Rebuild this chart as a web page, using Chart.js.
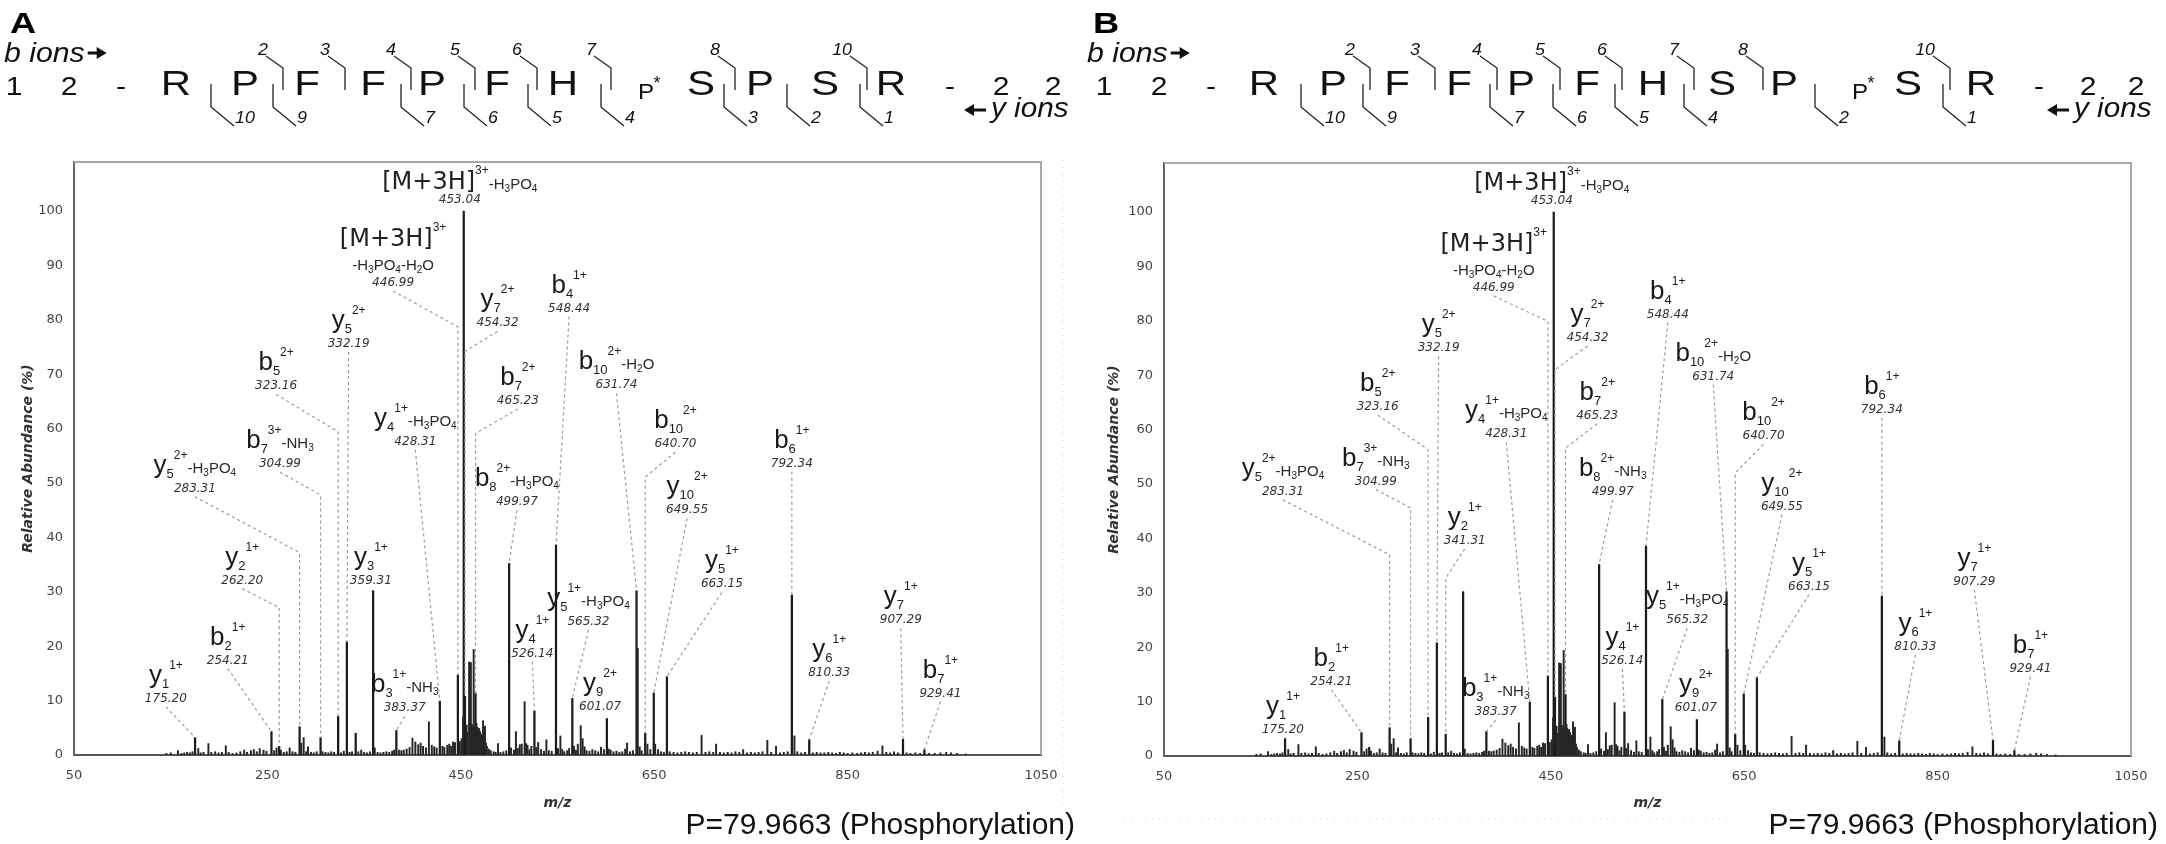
<!DOCTYPE html>
<html>
<head>
<meta charset="utf-8">
<script src="https://cdn.jsdelivr.net/npm/chart.js@4.4.1/dist/chart.umd.min.js"></script>
<style>
  html, body { margin: 0; padding: 0; background: #fff; }
  #wrap { position: relative; width: 2166px; height: 844px; }
  .panel { position: absolute; top: 0; width: 1083px; height: 844px; }
  #panelA { left: 0; }
  #panelB { left: 1083px; }
</style>
</head>
<body>
<div id="wrap">
  <div class="panel" id="panelA"><canvas id="chartA" width="1083" height="844"></canvas></div>
  <div class="panel" id="panelB"><canvas id="chartB" width="1083" height="844"></canvas></div>
</div>
<script>
// axis ticks
const xTicks = [50, 250, 450, 650, 850, 1050];
const yTicks = [0, 10, 20, 30, 40, 50, 60, 70, 80, 90, 100];

// annotated peaks (m/z, relative abundance %)
const peakMz = [175.20, 254.21, 262.20, 283.31, 304.99, 323.16, 332.19, 341.31, 359.31, 383.37,
  428.31, 446.99, 453.04, 454.32, 465.23, 499.97, 526.14, 548.44, 565.32, 601.07,
  631.74, 640.70, 649.55, 663.15, 792.34, 810.33, 907.29, 929.41];
const peakInt = [3.2, 4.3, 1.6, 5.2, 3.2, 7.1, 20.8, 4.0, 30.2, 4.5,
  9.9, 14.7, 100, 10.8, 11.3, 35.2, 8.1, 38.6, 10.4, 6.7,
  30.2, 4.0, 11.4, 14.4, 29.4, 2.8, 2.9, 1.0];

// other (unassigned) peaks
const minorMz = [145.5, 150, 157.5, 161, 164, 167, 170, 172.5, 178.5, 181, 184, 189, 192, 196, 199.5, 203, 207, 210, 214, 218,
  222, 226, 229, 233, 236, 239, 242, 246, 249, 257, 259.5, 264, 267, 270, 273, 276, 279, 285, 287.5, 290,
  292, 295, 298, 301, 307, 310, 313, 316, 319, 326, 329, 335, 337.5, 344, 347, 350, 353, 356, 361, 364,
  367, 370, 373, 376, 379, 381, 386, 388.5, 391, 394, 397, 400, 403, 406, 408.5, 411, 414, 417, 420, 422.5,
  425, 431, 433, 436, 438, 440, 442, 444, 449, 451, 452.3, 456, 457, 458.6, 459.5, 460.4, 461.5, 462.3, 463.3, 464.2,
  466.2, 467, 468, 469, 470, 471, 472, 473, 474, 475, 476, 477, 479, 481, 484, 486, 488.5, 491, 494, 497,
  502, 505, 507, 509, 511, 513, 516, 517.5, 519, 521, 523, 528, 530, 533, 536, 538.5, 541, 544, 550.5, 553,
  555, 557, 560, 562, 567, 569, 571, 574, 576, 578, 580, 583, 586, 589, 592, 595, 598, 603, 605, 608,
  611, 614, 617, 620, 622, 625, 628, 633, 635, 637, 643, 646, 651, 654, 657, 660, 666, 670, 674, 678,
  682, 686, 690, 694, 699, 703, 707, 711, 714, 718, 722, 726, 730, 734, 738, 742, 746, 750, 754, 758,
  762, 767, 771, 776, 780, 784, 788, 795, 798, 802, 806, 814, 818, 822, 826, 830, 834, 838, 842, 846,
  850, 855, 860, 864, 868, 872, 876, 881, 886, 890, 894, 898, 902, 911, 915, 920, 925, 934, 940, 946,
  952, 957, 963, 972];
const minorInt = [0.3, 0.4, 0.8, 0.3, 0.4, 0.5, 0.4, 0.6, 1.2, 0.4, 0.5, 2.1, 0.5, 0.6, 0.4, 0.5, 1.7, 0.5, 0.3, 0.4,
  0.6, 0.9, 0.5, 0.8, 1.0, 0.6, 1.2, 0.9, 0.7, 0.8, 1.3, 0.9, 0.5, 0.6, 1.3, 0.6, 0.5, 2.2, 3.2, 0.6,
  1.5, 0.5, 0.4, 0.6, 0.6, 0.5, 0.4, 0.6, 0.5, 0.4, 0.7, 0.5, 0.6, 0.6, 0.9, 0.5, 0.4, 0.6, 1.3, 0.5,
  0.4, 0.5, 0.6, 0.5, 0.7, 0.9, 0.9, 0.8, 0.9, 1.1, 1.4, 3.1, 2.4, 1.9, 2.2, 1.6, 1.3, 6.1, 1.8, 1.5,
  1.3, 1.6, 1.4, 1.8, 2.0, 1.6, 2.4, 2.3, 2.5, 3.0, 7.0, 5.5, 4.2, 17.1, 4.8, 17.0, 5.6, 4.9, 19.4, 5.2,
  5.8, 5.1, 4.6, 4.9, 4.3, 3.8, 3.5, 6.3, 3.0, 5.3, 2.2, 1.6, 1.1, 0.8, 0.6, 0.5, 2.1, 0.5, 0.6, 0.8,
  1.3, 0.9, 4.3, 1.2, 1.9, 2.0, 9.8, 2.1, 1.8, 1.0, 1.6, 1.4, 2.3, 1.0, 0.7, 2.8, 0.8, 0.7, 1.2, 3.5,
  1.0, 0.6, 0.8, 1.2, 1.6, 0.9, 2.0, 5.4, 3.0, 1.5, 0.8, 0.7, 1.0, 0.8, 0.6, 1.4, 1.0, 1.1, 0.9, 0.6,
  0.7, 0.5, 0.6, 1.1, 2.2, 0.6, 0.8, 19.6, 1.5, 0.8, 2.0, 1.0, 2.0, 1.0, 0.6, 0.5, 0.6, 0.5, 0.4, 0.5,
  0.6, 0.5, 0.4, 0.5, 3.6, 0.5, 0.6, 0.5, 2.0, 0.5, 0.4, 0.5, 0.4, 0.6, 0.5, 1.0, 0.4, 0.5, 0.4, 0.5,
  0.6, 2.7, 0.5, 1.6, 0.4, 0.5, 0.6, 3.5, 0.6, 0.4, 0.5, 0.4, 0.5, 0.4, 0.4, 0.5, 0.4, 0.3, 0.5, 0.4,
  0.3, 0.4, 0.3, 0.4, 0.5, 0.4, 0.5, 0.7, 1.7, 0.5, 0.4, 0.6, 0.4, 0.4, 0.3, 0.4, 0.3, 0.3, 0.3, 0.4,
  0.5, 0.4, 0.3, 0.2];

// peptide sequences and fragment numbering
const seqA = ['1', '2', '-', 'R', 'P', 'F', 'F', 'P', 'F', 'H', 'p*', 'S', 'P', 'S', 'R', '-', '2', '2'];
const seqB = ['1', '2', '-', 'R', 'P', 'F', 'F', 'P', 'F', 'H', 'S', 'P', 'p*', 'S', 'R', '-', '2', '2'];
const bIonsA = [2, 3, 4, 5, 6, 7, 8, 10];
const yIonsA = [10, 9, 7, 6, 5, 4, 3, 2, 1];
const bIonsB = [2, 3, 4, 5, 6, 7, 8, 10];
const yIonsB = [10, 9, 7, 6, 5, 4, 2, 1];

// layout of the sequence header (pixel x of each residue / cleavage mark)
const seqAx = [14, 69, 121, 176, 245, 307, 373, 432, 497, 563, 646, 701, 760, 825, 891, 950, 1001, 1053];
const seqBx = [21, 76, 128, 181, 250, 314, 376, 438, 504, 570, 639, 701, 777, 825, 898, 956, 1005, 1053];
const bCutAx = [283, 345, 411, 475, 537, 611, 735, 867];
const yCutAx = [211, 273, 401, 464, 528, 601, 724, 787, 860];
const bCutBx = [287, 352, 414, 477, 539, 611, 680, 867];
const yCutBx = [218, 280, 407, 470, 532, 601, 732, 860];

// peak labels: x = label centre (m/z), y = italic number baseline (%), pk = peak, bend = leader elbow (%)
const labelsA = [
  { t: '[M+3H]^{3+}-H_3PO_4', n: '453.04', x: 449, y: 101.5, big: true },
  { t: '[M+3H]^{3+}', t2: '-H_3PO_4-H_2O', n: '446.99', x: 380, y: 86.2, pk: 446.99, bend: 78.7 },
  { t: 'y_7^{2+}', n: '454.32', x: 488, y: 78.8, pk: 454.32, bend: 74.2 },
  { t: 'b_7^{2+}', n: '465.23', x: 509, y: 64.5, pk: 465.23, bend: 59.1 },
  { t: 'y_5^{2+}', n: '332.19', x: 334, y: 75.0, pk: 332.19 },
  { t: 'b_5^{2+}', n: '323.16', x: 259, y: 67.2, pk: 323.16, bend: 59.4 },
  { t: 'b_7^{3+}-NH_3', n: '304.99', x: 263, y: 52.9, pk: 304.99, bend: 47.8 },
  { t: 'y_5^{2+}-H_3PO_4', n: '283.31', x: 175, y: 48.4, pk: 283.31, bend: 37.2 },
  { t: 'y_4^{1+}-H_3PO_4', n: '428.31', x: 403, y: 57.0, pk: 428.31 },
  { t: 'b_8^{2+}-H_3PO_4', n: '499.97', x: 508, y: 45.9, pk: 499.97 },
  { t: 'b_4^{1+}', n: '548.44', x: 562, y: 81.5, pk: 548.44 },
  { t: 'b_{10}^{2+}-H_2O', n: '631.74', x: 611, y: 67.4, pk: 631.74 },
  { t: 'b_{10}^{2+}', n: '640.70', x: 672, y: 56.6, pk: 640.70, bend: 51.1 },
  { t: 'y_{10}^{2+}', n: '649.55', x: 684, y: 44.4, pk: 649.55 },
  { t: 'y_5^{1+}', n: '663.15', x: 720, y: 30.8, pk: 663.15 },
  { t: 'b_6^{1+}', n: '792.34', x: 792.34, y: 53.0, pk: 792.34 },
  { t: 'y_6^{1+}', n: '810.33', x: 831, y: 14.5, pk: 810.33 },
  { t: 'y_7^{1+}', n: '907.29', x: 905, y: 24.2, pk: 907.29 },
  { t: 'b_7^{1+}', n: '929.41', x: 946, y: 10.7, pk: 929.41 },
  { t: 'y_4^{1+}', n: '526.14', x: 524, y: 18.1, pk: 526.14 },
  { t: 'y_5^{1+}-H_3PO_4', n: '565.32', x: 582, y: 23.9, pk: 565.32 },
  { t: 'y_9^{2+}', n: '601.07', x: 594, y: 8.3 },
  { t: 'y_3^{1+}', n: '359.31', x: 357, y: 31.5 },
  { t: 'y_2^{1+}', n: '262.20', x: 224, y: 31.5, pk: 262.20, bend: 27.1 },
  { t: 'b_2^{1+}', n: '254.21', x: 209, y: 16.8, pk: 254.21 },
  { t: 'y_1^{1+}', n: '175.20', x: 145, y: 9.8, pk: 175.20 },
  { t: 'b_3^{1+}-NH_3', n: '383.37', x: 392, y: 8.0, pk: 383.37 }
];
const labelsB = [
  { t: '[M+3H]^{3+}-H_3PO_4', n: '453.04', x: 451, y: 101.4, big: true },
  { t: '[M+3H]^{3+}', t2: '-H_3PO_4-H_2O', n: '446.99', x: 391, y: 85.5, pk: 446.99, bend: 79.9 },
  { t: 'y_7^{2+}', n: '454.32', x: 488, y: 76.3, pk: 454.32, bend: 71.0 },
  { t: 'b_7^{2+}', n: '465.23', x: 498, y: 62.0, pk: 465.23, bend: 56.6 },
  { t: 'y_5^{2+}', n: '332.19', x: 334, y: 74.4, pk: 332.19 },
  { t: 'b_5^{2+}', n: '323.16', x: 271, y: 63.6, pk: 323.16, bend: 56.3 },
  { t: 'b_7^{3+}-NH_3', n: '304.99', x: 269, y: 49.9, pk: 304.99, bend: 45.6 },
  { t: 'y_5^{2+}-H_3PO_4', n: '283.31', x: 173, y: 48.0, pk: 283.31, bend: 37.0 },
  { t: 'y_4^{1+}-H_3PO_4', n: '428.31', x: 404, y: 58.6, pk: 428.31 },
  { t: 'b_8^{2+}-NH_3', n: '499.97', x: 514, y: 48.0, pk: 499.97 },
  { t: 'b_4^{1+}', n: '548.44', x: 571, y: 80.6, pk: 548.44 },
  { t: 'b_{10}^{2+}-H_2O', n: '631.74', x: 618, y: 69.2, pk: 631.74 },
  { t: 'b_{10}^{2+}', n: '640.70', x: 670, y: 58.2, pk: 640.70, bend: 52.0 },
  { t: 'y_{10}^{2+}', n: '649.55', x: 689, y: 45.3, pk: 649.55 },
  { t: 'y_5^{1+}', n: '663.15', x: 717, y: 30.6, pk: 663.15 },
  { t: 'b_6^{1+}', n: '792.34', x: 792.34, y: 63.1, pk: 792.34 },
  { t: 'y_6^{1+}', n: '810.33', x: 827, y: 19.5, pk: 810.33 },
  { t: 'y_7^{1+}', n: '907.29', x: 888, y: 31.5, pk: 907.29 },
  { t: 'b_7^{1+}', n: '929.41', x: 946, y: 15.5, pk: 929.41 },
  { t: 'y_4^{1+}', n: '526.14', x: 524, y: 16.9, pk: 526.14 },
  { t: 'y_5^{1+}-H_3PO_4', n: '565.32', x: 591, y: 24.4, pk: 565.32 },
  { t: 'y_9^{2+}', n: '601.07', x: 600, y: 8.2 },
  { t: 'y_2^{1+}', n: '341.31', x: 361, y: 39.0, pk: 341.31, bend: 32.7 },
  { t: 'b_2^{1+}', n: '254.21', x: 223, y: 13.1, pk: 254.21 },
  { t: 'y_1^{1+}', n: '175.20', x: 173, y: 4.2 },
  { t: 'b_3^{1+}-NH_3', n: '383.37', x: 393, y: 7.5, pk: 383.37 }
];

const SANS = "'Liberation Sans', Arial, sans-serif";
const WIDE = "'DejaVu Sans', Verdana, sans-serif";

function peakTop(mz) {
  const i = peakMz.indexOf(mz);
  return i >= 0 ? peakInt[i] : 0;
}

function txt(ctx, s, x, y, font, color, align, sx) {
  ctx.save();
  ctx.font = font;
  ctx.fillStyle = color || '#111';
  ctx.textAlign = align || 'left';
  ctx.textBaseline = 'alphabetic';
  ctx.translate(x, y);
  ctx.scale(sx || 1, 1);
  ctx.fillText(s, 0, 0);
  ctx.restore();
}

function textWidth(ctx, s, font, sx) {
  ctx.save();
  ctx.font = font;
  const w = ctx.measureText(s).width * (sx || 1);
  ctx.restore();
  return w;
}

// split "y_5^{2+}-H_3PO_4" into runs
function parseRich(str) {
  const out = [];
  let i = 0, buf = '';
  const flush = () => { if (buf) { out.push({ s: buf, k: 'n' }); buf = ''; } };
  while (i < str.length) {
    const c = str[i];
    if (c === '_' || c === '^') {
      flush();
      let s;
      if (str[i + 1] === '{') {
        const j = str.indexOf('}', i);
        s = str.slice(i + 2, j);
        i = j + 1;
      } else {
        s = str[i + 1];
        i += 2;
      }
      out.push({ s, k: c === '_' ? 'sub' : 'sup' });
    } else {
      buf += c;
      i++;
    }
  }
  flush();
  return out;
}

function drawRich(ctx, str, cx, base, mode) {
  let lead = mode !== 'suffix';
  const parts = parseRich(str).map((t, i) => {
    let font, dy = 0, color = '#1a1a1a', sx = 1;
    if (t.k === 'n') {
      if (i === 0 && mode === 'ion') font = `26px ${SANS}`;
      else if (i === 0 && mode === 'big') { font = `24px ${WIDE}`; color = '#222'; }
      else { lead = false; font = `15px ${SANS}`; color = '#2a2a2a'; }
    } else if (t.k === 'sub') {
      if (lead) { font = `13px ${SANS}`; dy = 5; }
      else { font = `10px ${SANS}`; dy = 3; }
    } else {
      font = `12px ${SANS}`;
      dy = mode === 'big' ? -15 : -14;
    }
    return { s: t.s, font, dy, color, sx };
  });
  let w = 0;
  parts.forEach(p => {
    p.w = textWidth(ctx, p.s, p.font, p.sx);
    w += p.w;
  });
  let x = cx - w / 2;
  parts.forEach(p => {
    txt(ctx, p.s, x, base + p.dy, p.font, p.color, 'left', p.sx);
    x += p.w;
  });
}

function drawLeader(ctx, xs, ys, L) {
  if (L.pk == null) return;
  const px = xs.getPixelForValue(L.pk);
  const pts = [[xs.getPixelForValue(L.x), ys.getPixelForValue(L.y) + 5]];
  if (L.bend != null) pts.push([px, ys.getPixelForValue(L.bend)]);
  pts.push([px, ys.getPixelForValue(peakTop(L.pk))]);
  ctx.save();
  ctx.strokeStyle = '#9c9c9c';
  ctx.lineWidth = 1.2;
  ctx.setLineDash([3, 3]);
  ctx.beginPath();
  pts.forEach((p, i) => i ? ctx.lineTo(p[0], p[1]) : ctx.moveTo(p[0], p[1]));
  ctx.stroke();
  ctx.restore();
}

function drawLabel(ctx, xs, ys, L) {
  const cx = xs.getPixelForValue(L.x);
  const ny = ys.getPixelForValue(L.y);
  if (L.t2) {
    drawRich(ctx, L.t, cx, ny - 40, 'big');
    drawRich(ctx, L.t2, cx, ny - 16, 'suffix');
  } else {
    drawRich(ctx, L.t, cx, ny - (L.big ? 14 : 19), L.big ? 'big' : 'ion');
  }
  txt(ctx, L.n, cx, ny, `italic 12px ${WIDE}`, '#333', 'center', 1);
}

function arrow(ctx, x0, x1, y) {
  const d = x1 > x0 ? 1 : -1;
  ctx.save();
  ctx.fillStyle = '#111';
  ctx.strokeStyle = '#111';
  ctx.lineWidth = 3;
  ctx.beginPath();
  ctx.moveTo(x0, y);
  ctx.lineTo(x1 - d * 8, y);
  ctx.stroke();
  ctx.beginPath();
  ctx.moveTo(x1 - d * 10, y - 6);
  ctx.lineTo(x1, y);
  ctx.lineTo(x1 - d * 10, y + 6);
  ctx.closePath();
  ctx.fill();
  ctx.restore();
}

function drawHeader(ctx, H) {
  txt(ctx, H.tag, 10, 33, `bold 29px ${SANS}`, '#000', 'left', 1.25);
  const ionFont = `italic 27px ${SANS}`;
  txt(ctx, 'b ions', 4, 62, ionFont, '#111', 'left', 1.12);
  const bEnd = 4 + textWidth(ctx, 'b ions', ionFont, 1.12);
  arrow(ctx, bEnd + 3, bEnd + 22, 53);
  txt(ctx, 'y ions', 991, 117, ionFont, '#111', 'left', 1.1);
  arrow(ctx, 986, 964, 110);

  H.seq.forEach((r, i) => {
    const x = H.seqX[i];
    if (r === 'p*') {
      txt(ctx, 'P', x, 99, `22px ${SANS}`, '#111', 'center', 1.1);
      txt(ctx, '*', x + 11, 89, `18px ${SANS}`, '#111', 'center', 1);
    } else if (/[0-9-]/.test(r)) {
      txt(ctx, r, x, 95, `25px ${SANS}`, '#111', 'center', 1.2);
    } else {
      txt(ctx, r, x, 95, `35px ${SANS}`, '#111', 'center', 1.2);
    }
  });

  ctx.save();
  ctx.strokeStyle = '#222';
  ctx.lineWidth = 1.3;
  H.bIons.forEach((n, i) => {
    const v = H.bX[i];
    ctx.beginPath();
    ctx.moveTo(v - 17, 56);
    ctx.lineTo(v, 68);
    ctx.lineTo(v, 90);
    ctx.stroke();
    txt(ctx, String(n), v - 15, 55, `italic 17px ${SANS}`, '#111', 'right', 1.05);
  });
  H.yIons.forEach((n, i) => {
    const v = H.yX[i];
    ctx.beginPath();
    ctx.moveTo(v, 84);
    ctx.lineTo(v, 107);
    ctx.lineTo(v + 23, 126);
    ctx.stroke();
    txt(ctx, String(n), v + 24, 123, `italic 17px ${SANS}`, '#111', 'left', 1.05);
  });
  ctx.restore();
}

function decorPlugin(cfg) {
  return {
    id: 'decor',
    beforeDraw(chart) {
      const ctx = chart.ctx;
      ctx.save();
      ctx.fillStyle = '#fff';
      ctx.fillRect(0, 0, chart.width, chart.height);
      ctx.restore();
    },
    afterDraw(chart) {
      const ctx = chart.ctx;
      const a = chart.chartArea;
      const xs = chart.scales.x, ys = chart.scales.y;

      // light frame on top and right
      ctx.save();
      ctx.strokeStyle = '#a8a8a8';
      ctx.lineWidth = 2;
      ctx.beginPath();
      ctx.moveTo(a.left, a.top);
      ctx.lineTo(a.right, a.top);
      ctx.lineTo(a.right, a.bottom);
      ctx.stroke();

      // faint dotted guide of the original figure
      ctx.strokeStyle = '#cfcfcf';
      ctx.lineWidth = 1;
      ctx.setLineDash([1, 6]);
      ctx.beginPath();
      if (cfg.guide === 'v') { ctx.moveTo(1063, 160); ctx.lineTo(1063, 805); }
      else { ctx.moveTo(34, 819); ctx.lineTo(647, 819); }
      ctx.stroke();
      ctx.restore();

      cfg.labels.forEach(L => drawLeader(ctx, xs, ys, L));
      cfg.labels.forEach(L => drawLabel(ctx, xs, ys, L));
      drawHeader(ctx, cfg.header);

      // axis titles
      ctx.save();
      ctx.translate(cfg.yTitleX, (a.top + a.bottom) / 2);
      ctx.rotate(-Math.PI / 2);
      txt(ctx, 'Relative Abundance (%)', 0, 5, `bold italic 14px ${WIDE}`, '#333', 'center', 1);
      ctx.restore();
      txt(ctx, 'm/z', (a.left + a.right) / 2, 807, `bold italic 14px ${WIDE}`, '#333', 'center', 1);

      txt(ctx, 'P=79.9663 (Phosphorylation)', 1075, 834, `30px ${SANS}`, '#111', 'right', 1);
    }
  };
}

function makeChart(id, frame, cfg) {
  const yW = 40, xH = 30;
  return new Chart(document.getElementById(id), {
    type: 'bar',
    data: {
      datasets: [
        {
          data: minorMz.map((m, i) => ({ x: m, y: minorInt[i] })),
          backgroundColor: '#262626',
          barThickness: 1.3,
          grouped: false
        },
        {
          data: peakMz.map((m, i) => ({ x: m, y: peakInt[i] })),
          backgroundColor: '#1c1c1c',
          barThickness: 1.6,
          grouped: false
        }
      ]
    },
    options: {
      responsive: false,
      animation: false,
      devicePixelRatio: 1,
      layout: {
        padding: { left: frame.left - yW, right: 1083 - frame.right, top: frame.top, bottom: 844 - frame.bottom - xH }
      },
      plugins: { legend: { display: false }, tooltip: { enabled: false } },
      scales: {
        x: {
          type: 'linear', min: 50, max: 1050, offset: false,
          grid: { display: false, drawTicks: false },
          border: { display: true, color: '#555', width: 2 },
          ticks: { font: { family: 'DejaVu Sans', size: 13 }, color: '#444', padding: 13, maxRotation: 0, callback: v => String(v) },
          afterBuildTicks: s => { s.ticks = xTicks.map(v => ({ value: v })); },
          afterFit: s => { s.height = xH; }
        },
        y: {
          type: 'linear', min: 0, max: 109,
          grid: { display: false, drawTicks: false },
          border: { display: true, color: '#666', width: 2 },
          ticks: { font: { family: 'DejaVu Sans', size: 13 }, color: '#444', padding: 11, callback: v => String(v) },
          afterBuildTicks: s => { s.ticks = yTicks.map(v => ({ value: v })); },
          afterFit: s => { s.width = yW; }
        }
      }
    },
    plugins: [decorPlugin(cfg)]
  });
}

makeChart('chartA', { left: 74, right: 1041, top: 162, bottom: 755 }, {
  labels: labelsA, guide: 'v', yTitleX: 27,
  header: { tag: 'A', seq: seqA, seqX: seqAx, bIons: bIonsA, bX: bCutAx, yIons: yIonsA, yX: yCutAx }
});
makeChart('chartB', { left: 81, right: 1048, top: 163, bottom: 756 }, {
  labels: labelsB, guide: 'h', yTitleX: 30,
  header: { tag: 'B', seq: seqB, seqX: seqBx, bIons: bIonsB, bX: bCutBx, yIons: yIonsB, yX: yCutBx }
});
</script>
</body>
</html>
